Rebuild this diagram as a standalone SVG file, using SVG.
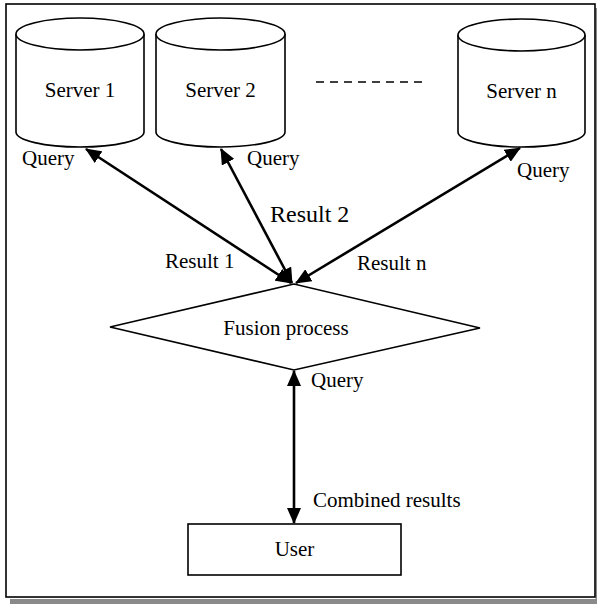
<svg xmlns="http://www.w3.org/2000/svg" width="597" height="604" viewBox="0 0 597 604">
<style>
.t{font-family:"Liberation Serif","Times New Roman",serif;font-size:21px;fill:#000}
.shape{fill:#fff;stroke:#000;stroke-width:1.6}
.conn{stroke:#000;stroke-width:2.6;fill:none}
</style>
<defs>
<marker id="ah" markerUnits="userSpaceOnUse" markerWidth="16" markerHeight="14" viewBox="0 0 16 14" refX="15" refY="7" orient="auto-start-reverse">
<path d="M0,0 L16,7 L0,14 z" fill="#000"/>
</marker>
</defs>
<rect x="10" y="599" width="587" height="5" fill="#8a8a8a"/>
<rect x="595.5" y="8" width="1.5" height="596" fill="#8a8a8a"/>
<rect x="6" y="4" width="589" height="593" fill="#fff" stroke="#000" stroke-width="1.6"/>
<g id="server1">
<path class="shape" d="M16,34 L16,132 A64,15 0 0 0 144,132 L144,34"/>
<ellipse class="shape" cx="80" cy="34" rx="64" ry="16"/>
<text class="t" x="80" y="97" text-anchor="middle">Server 1</text>
</g>
<g id="server2">
<path class="shape" d="M156,34 L156,132 A64.5,15 0 0 0 285,132 L285,34"/>
<ellipse class="shape" cx="220.5" cy="34" rx="64.5" ry="16"/>
<text class="t" x="220.5" y="97" text-anchor="middle">Server 2</text>
</g>
<g id="servern">
<path class="shape" d="M458,35 L458,132 A63.5,15 0 0 0 585,132 L585,35"/>
<ellipse class="shape" cx="521.5" cy="35" rx="63.5" ry="16"/>
<text class="t" x="521.5" y="98" text-anchor="middle">Server n</text>
</g>
<g id="ellipsis">
<line x1="316" y1="82" x2="427" y2="82" stroke="#000" stroke-width="1.6" stroke-dasharray="8,6"/>
</g>
<g id="fusion">
<polygon class="shape" stroke-width="2" points="110,327 294,284 480,328 294,370"/>
<text class="t" x="286" y="335" text-anchor="middle">Fusion process</text>
</g>
<g id="user">
<rect class="shape" x="188" y="524" width="213" height="51"/>
<text class="t" x="294.5" y="556" text-anchor="middle">User</text>
</g>
<g id="connectors">
<line class="conn" x1="86" y1="149" x2="291" y2="283" marker-start="url(#ah)" marker-end="url(#ah)"/>
<line class="conn" x1="221" y1="149" x2="292" y2="283" marker-start="url(#ah)" marker-end="url(#ah)"/>
<line class="conn" x1="520" y1="148" x2="296" y2="283" marker-start="url(#ah)" marker-end="url(#ah)"/>
<line class="conn" x1="294" y1="371" x2="294" y2="523" marker-start="url(#ah)" marker-end="url(#ah)"/>
</g>
<g id="labels">
<text class="t" x="22" y="165">Query</text>
<text class="t" x="247" y="165">Query</text>
<text class="t" x="517" y="177">Query</text>
<text class="t" x="270" y="222" style="font-size:24px">Result 2</text>
<text class="t" x="165" y="268">Result 1</text>
<text class="t" x="357" y="270">Result n</text>
<text class="t" x="311" y="387">Query</text>
<text class="t" x="313" y="507">Combined results</text>
</g>
</svg>
